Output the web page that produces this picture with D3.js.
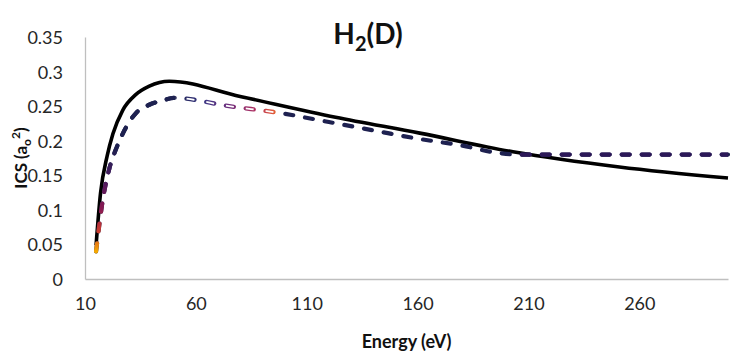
<!DOCTYPE html>
<html>
<head>
<meta charset="utf-8">
<script src="https://cdn.jsdelivr.net/npm/d3@7"></script>
<style>
  html, body { margin: 0; padding: 0; background: #fff; }
  svg { display: block; font-family: Lato, "Noto Sans", sans-serif; }
</style>
</head>
<body>
<svg id="chart" width="737" height="359"></svg>
<script>
/* H2(D) integrated cross section vs energy.
   Solid black = one calculation, dashed = the other (coloured by range). */

// x tick labels (Excel: min 10, major unit 50)
var xTicks = [10, 60, 110, 160, 210, 260];
var yTicks = [0, 0.05, 0.1, 0.15, 0.2, 0.25, 0.3, 0.35];

// solid black series
var energySolid = [15, 17, 20, 22.6, 27, 33, 39, 48, 80, 123, 161, 203, 251, 300];
var icsSolid    = [0.049, 0.124, 0.178, 0.210, 0.244, 0.267, 0.279, 0.286, 0.264, 0.234, 0.211, 0.184, 0.162, 0.146];

// dashed series
var energyDash = [15, 18, 21, 24, 27, 33, 39, 45, 50, 75, 100, 120, 140, 160, 180, 195, 205, 250, 300];
var icsDash    = [0.04, 0.114, 0.160, 0.188, 0.210, 0.240, 0.252, 0.258, 0.262, 0.250, 0.239, 0.227, 0.215, 0.203, 0.193, 0.183, 0.180, 0.180, 0.180];

// energy ranges where the dashed line changes look
var riseRange   = [10, 50];
var hollowRange = [51, 99];
var flatRange   = [205, 300];

(function () {
  'use strict';

  var svg = d3.select('#chart');
  var margin = { top: 37, right: 9, bottom: 80, left: 85 };
  var W = 737, H = 359;
  var iw = W - margin.left - margin.right;
  var ih = H - margin.top - margin.bottom;

  var x = d3.scaleLinear().domain([10, 300]).range([0, iw]);
  var y = d3.scaleLinear().domain([0, 0.35]).range([ih, 0]);

  var g = svg.append('g').attr('transform', 'translate(' + margin.left + ',' + margin.top + ')');
  var defs = svg.append('defs');

  /* axes: plain grey lines, no tick marks */
  var xAxis = g.append('g').attr('transform', 'translate(0,' + ih + ')')
    .call(d3.axisBottom(x).tickValues(xTicks).tickSize(0).tickPadding(18).tickFormat(d3.format('d')));
  var yAxis = g.append('g')
    .call(d3.axisLeft(y).tickValues(yTicks).tickSize(0).tickPadding(22).tickFormat(function (d) { return d === 0 ? '0' : String(+d.toFixed(2)); }));
  [xAxis, yAxis].forEach(function (a) {
    a.select('.domain').attr('stroke', '#bfbfbf').attr('stroke-width', 1.3);
    a.selectAll('text').style('font-family', 'Lato, "Noto Sans", sans-serif')
      .style('font-size', '18px').attr('fill', '#262626');
  });
  yAxis.selectAll('text').attr('dy', '0.36em');

  /* titles */
  var title = svg.append('text').attr('x', 368).attr('y', 44)
    .attr('text-anchor', 'middle').style('font-size', '28px').style('font-weight', 'bold').attr('fill', '#111');
  title.append('tspan').text('H');
  title.append('tspan').attr('dy', 7).style('font-size', '20px').text('2');
  title.append('tspan').attr('dy', -7).text('(D)');

  svg.append('text').attr('x', margin.left + iw / 2).attr('y', 348)
    .attr('text-anchor', 'middle').style('font-size', '18px').style('font-weight', 'bold').attr('fill', '#111')
    .text('Energy (eV)');

  var yl = svg.append('text').attr('transform', 'translate(27,' + (margin.top + ih / 2) + ') rotate(-90)')
    .attr('text-anchor', 'middle').style('font-size', '17px').style('font-weight', 'bold').attr('fill', '#111');
  yl.append('tspan').text('ICS (a');
  yl.append('tspan').attr('dy', 4).style('font-size', '12px').text('o');
  yl.append('tspan').attr('dy', -11).style('font-size', '12px').text('2');
  yl.append('tspan').attr('dy', 7).text(')');

  /* line generators */
  var solidData = energySolid.map(function (e, i) { return [e, icsSolid[i]]; });
  var dashData = energyDash.map(function (e, i) { return [e, icsDash[i]]; });
  var line = d3.line().x(function (d) { return x(d[0]); }).y(function (d) { return y(d[1]); })
    .curve(d3.curveMonotoneX);

  /* clip rectangles for the dashed-line ranges */
  function clipFor(id, r) {
    var pad = r[0] <= 10 ? 20 : 0;
    defs.append('clipPath').attr('id', id).append('rect')
      .attr('x', x(r[0]) - pad).attr('y', -20)
      .attr('width', x(r[1]) - x(r[0]) + pad).attr('height', ih + 40);
  }
  clipFor('clip-rise', riseRange);
  clipFor('clip-hollow', hollowRange);
  clipFor('clip-flat', flatRange);

  /* gradient for the rising part (bottom orange -> navy) */
  var gRise = defs.append('linearGradient').attr('id', 'grad-rise')
    .attr('gradientUnits', 'userSpaceOnUse')
    .attr('x1', 0).attr('x2', 0).attr('y1', y(0.04)).attr('y2', y(0.19));
  [[0, '#f5a800'], [0.18, '#d0402c'], [0.4, '#8c1a52'], [0.7, '#4a1a60'], [1, '#1e2150']].forEach(function (s) {
    gRise.append('stop').attr('offset', s[0]).attr('stop-color', s[1]);
  });

  /* gradient for the hollow part (navy -> orange along x) */
  var gHol = defs.append('linearGradient').attr('id', 'grad-hollow')
    .attr('gradientUnits', 'userSpaceOnUse')
    .attr('x1', x(hollowRange[0])).attr('x2', x(hollowRange[1])).attr('y1', 0).attr('y2', 0);
  [[0, '#1e2150'], [0.25, '#3c3a86'], [0.5, '#6e2c7c'], [0.75, '#b03060'], [0.92, '#e05a3a'], [1, '#f5a020']].forEach(function (s) {
    gHol.append('stop').attr('offset', s[0]).attr('stop-color', s[1]);
  });

  var dash = '8,12';

  /* solid black */
  g.append('path').datum(solidData).attr('d', line)
    .attr('fill', 'none').attr('stroke', '#000').attr('stroke-width', 3.6)
    .attr('stroke-linejoin', 'round');

  /* dashed: base navy */
  g.append('path').datum(dashData).attr('d', line)
    .attr('fill', 'none').attr('stroke', '#1e2150').attr('stroke-width', 4.2)
    .attr('stroke-dasharray', dash).attr('stroke-linecap', 'round');

  /* rising part with colour ramp */
  g.append('path').datum(dashData).attr('d', line).attr('clip-path', 'url(#clip-rise)')
    .attr('fill', 'none').attr('stroke', 'url(#grad-rise)').attr('stroke-width', 4.2)
    .attr('stroke-dasharray', dash).attr('stroke-linecap', 'round');

  /* hollow part: coloured outline, white core */
  g.append('path').datum(dashData).attr('d', line).attr('clip-path', 'url(#clip-hollow)')
    .attr('fill', 'none').attr('stroke', '#fff').attr('stroke-width', 6);
  g.append('path').datum(dashData).attr('d', line).attr('clip-path', 'url(#clip-hollow)')
    .attr('fill', 'none').attr('stroke', 'url(#grad-hollow)').attr('stroke-width', 4.4)
    .attr('stroke-dasharray', dash).attr('stroke-linecap', 'round');
  g.append('path').datum(dashData).attr('d', line).attr('clip-path', 'url(#clip-hollow)')
    .attr('fill', 'none').attr('stroke', '#fff').attr('stroke-width', 1.8)
    .attr('stroke-dasharray', dash);

  /* flat tail, slightly purple */
  g.append('path').datum(dashData).attr('d', line).attr('clip-path', 'url(#clip-flat)')
    .attr('fill', 'none').attr('stroke', '#2c1858').attr('stroke-width', 4.2)
    .attr('stroke-dasharray', dash).attr('stroke-linecap', 'round');
})();
</script>
</body>
</html>
